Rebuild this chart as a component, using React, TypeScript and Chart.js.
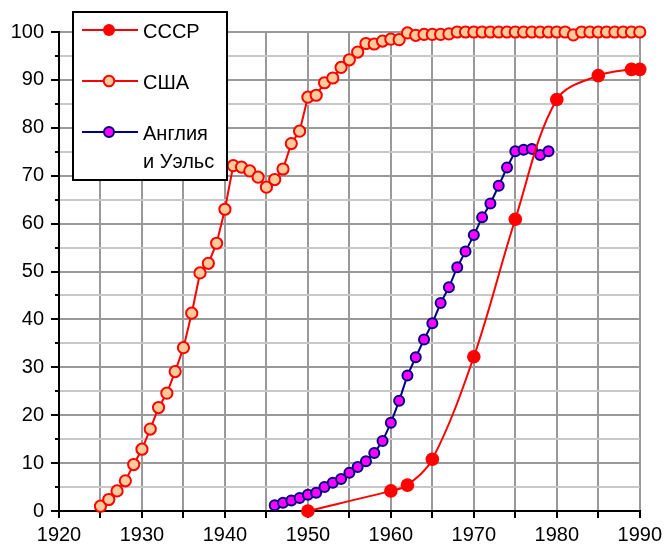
import React, { useEffect, useRef } from 'react';
import { Chart, registerables } from 'chart.js';

Chart.register(...registerables);

// ---- Data ----
const ussrYears = [1950, 1960, 1962, 1965, 1970, 1975, 1980, 1985, 1989, 1990];
const ussrValues = [0, 4.2, 5.4, 10.8, 32.2, 60.9, 85.9, 90.9, 92.2, 92.2];

const usaYears = [
  1925, 1926, 1927, 1928, 1929, 1930, 1931, 1932, 1933, 1934, 1935, 1936, 1937, 1938, 1939,
  1940, 1941, 1942, 1943, 1944, 1945, 1946, 1947, 1948, 1949, 1950, 1951, 1952, 1953, 1954,
  1955, 1956, 1957, 1958, 1959, 1960, 1961, 1962, 1963, 1964, 1965, 1966, 1967, 1968, 1969,
  1970, 1971, 1972, 1973, 1974, 1975, 1976, 1977, 1978, 1979, 1980, 1981, 1982, 1983, 1984,
  1985, 1986, 1987, 1988, 1989, 1990,
];
const usaValues = [
  1.0, 2.4, 4.2, 6.3, 9.7, 12.9, 17.1, 21.6, 24.6, 29.1, 34.1, 41.3, 49.7, 51.7, 55.9,
  63.0, 72.1, 71.8, 71.0, 69.7, 67.6, 69.2, 71.4, 76.7, 79.3, 86.4, 86.8, 89.4, 90.4, 92.6,
  94.2, 95.8, 97.6, 97.5, 98.1, 98.5, 98.4, 99.8, 99.3, 99.5, 99.5, 99.5, 99.6, 100, 100,
  100, 100, 100, 100, 100, 100, 100, 100, 100, 100, 100, 100, 99.4, 100, 100,
  100, 100, 100, 100, 100, 100,
];

const ewYears = [
  1946, 1947, 1948, 1949, 1950, 1951, 1952, 1953, 1954, 1955, 1956, 1957, 1958, 1959, 1960,
  1961, 1962, 1963, 1964, 1965, 1966, 1967, 1968, 1969, 1970, 1971, 1972, 1973, 1974, 1975,
  1976, 1977, 1978, 1979,
];
const ewValues = [
  1.2, 1.7, 2.2, 2.7, 3.4, 3.8, 5.0, 5.9, 6.7, 8.0, 9.2, 10.4, 12.1, 14.6, 18.4,
  23.0, 28.3, 32.1, 35.8, 39.2, 43.4, 46.7, 50.9, 54.2, 57.6, 61.3, 64.2, 67.9, 71.7, 75.1,
  75.4, 75.6, 74.3, 75.1,
];

const seriesLabels = ['СССР', 'США', 'Англия\nи Уэльс'];
const xMin = 1920;
const xMax = 1990;
const yMin = 0;
const yMax = 100;

const FONT = "'Liberation Sans', Arial, sans-serif";

const toPoints = (xs: number[], ys: number[]) => xs.map((x, i) => ({ x, y: ys[i] }));

const legendPlugin = {
  id: 'boxLegend',
  afterDraw(chart: any) {
    const ctx = chart.ctx as CanvasRenderingContext2D;
    ctx.save();
    ctx.fillStyle = '#ffffff';
    ctx.fillRect(73, 12, 154, 168);
    ctx.strokeStyle = '#000000';
    ctx.lineWidth = 2;
    ctx.strokeRect(73, 12, 154, 168);
    const rowY = [30, 81, 132];
    chart.data.datasets.forEach((ds: any, i: number) => {
      const cy = rowY[i];
      ctx.beginPath();
      ctx.moveTo(82, cy);
      ctx.lineTo(138, cy);
      ctx.strokeStyle = ds.borderColor;
      ctx.lineWidth = 2;
      ctx.stroke();
      ctx.beginPath();
      ctx.arc(109, cy, ds.legendRadius, 0, Math.PI * 2);
      ctx.fillStyle = ds.pointBackgroundColor;
      ctx.fill();
      if (ds.pointBorderWidth > 0) {
        ctx.lineWidth = ds.pointBorderWidth;
        ctx.strokeStyle = ds.pointBorderColor;
        ctx.stroke();
      }
      ctx.fillStyle = '#000';
      ctx.font = `20px ${FONT}`;
      ctx.textBaseline = 'alphabetic';
      ctx.textAlign = 'left';
      String(ds.label).split('\n').forEach((line: string, k: number) => {
        ctx.fillText(line, 143, cy + 8 + k * 28);
      });
    });
    ctx.restore();
  },
};

const minorTickPlugin = {
  id: 'minorTicks',
  afterDraw(chart: any) {
    const y = chart.scales.y;
    const ctx = chart.ctx as CanvasRenderingContext2D;
    ctx.save();
    ctx.strokeStyle = '#000';
    ctx.lineWidth = 2;
    y.ticks.forEach((t: any) => {
      if (t.value % 10 !== 0) {
        const py = Math.round(y.getPixelForValue(t.value));
        ctx.beginPath();
        ctx.moveTo(y.right - 4, py);
        ctx.lineTo(y.right, py);
        ctx.stroke();
      }
    });
    ctx.restore();
  },
};

export default function App() {
  const ref = useRef<HTMLCanvasElement | null>(null);

  useEffect(() => {
    if (!ref.current) return;
    const chart = new Chart(ref.current, {
      type: 'line',
      data: {
        datasets: [
          {
            label: seriesLabels[0],
            data: toPoints(ussrYears, ussrValues),
            borderColor: '#ff0000',
            borderWidth: 2,
            backgroundColor: '#ff0000',
            pointBackgroundColor: '#ff0000',
            pointBorderColor: '#ff0000',
            pointBorderWidth: 0,
            pointRadius: 6.8,
            tension: 0.35,
            clip: false,
            legendRadius: 6,
          } as any,
          {
            label: seriesLabels[1],
            data: toPoints(usaYears, usaValues),
            borderColor: '#ff0000',
            borderWidth: 2,
            backgroundColor: '#ffcc99',
            pointBackgroundColor: '#ffcc99',
            pointBorderColor: '#ff0000',
            pointBorderWidth: 2,
            pointRadius: 5.6,
            tension: 0,
            clip: false,
            legendRadius: 5.3,
          } as any,
          {
            label: seriesLabels[2],
            data: toPoints(ewYears, ewValues),
            borderColor: '#000080',
            borderWidth: 2,
            backgroundColor: '#ff00ff',
            pointBackgroundColor: '#ff00ff',
            pointBorderColor: '#000080',
            pointBorderWidth: 2,
            pointRadius: 5,
            tension: 0,
            clip: false,
            legendRadius: 5,
          } as any,
        ],
      },
      options: {
        responsive: false,
        animation: false,
        devicePixelRatio: 1,
        layout: { padding: { top: 32, right: 25, left: 0, bottom: 0 } },
        plugins: {
          legend: { display: false },
          tooltip: { enabled: false },
          title: { display: false },
        },
        scales: {
          x: {
            type: 'linear',
            min: xMin,
            max: xMax,
            afterFit: (s: any) => {
              s.height = 36;
            },
            ticks: {
              stepSize: 5,
              autoSkip: false,
              maxRotation: 0,
              padding: 5,
              color: '#000',
              font: { family: FONT, size: 20 },
              callback: (v: any) => (Number(v) % 10 === 0 ? String(v) : ''),
            },
            grid: {
              color: '#999999',
              lineWidth: 2,
              tickLength: 7,
              tickColor: '#000',
              tickWidth: 2,
            },
            border: { color: '#000', width: 2 },
          },
          y: {
            type: 'linear',
            min: yMin,
            max: yMax,
            afterFit: (s: any) => {
              s.width = 59;
            },
            ticks: {
              stepSize: 5,
              autoSkip: false,
              padding: 7,
              color: '#000',
              font: { family: FONT, size: 20 },
              callback: (v: any) => (Number(v) % 10 === 0 ? String(v) : ''),
            },
            grid: {
              color: (c: any) => (c.tick && c.tick.value % 10 === 0 ? '#999999' : '#c8c8c8'),
              lineWidth: 2,
              tickLength: 8,
              tickColor: (c: any) => (c.tick && c.tick.value % 10 === 0 ? '#000' : 'rgba(0,0,0,0)'),
              tickWidth: 2,
            },
            border: { color: '#000', width: 2 },
          },
        },
      } as any,
      plugins: [minorTickPlugin, legendPlugin],
    });
    return () => chart.destroy();
  }, []);

  return (
    <div style={{ position: 'absolute', left: 0, top: 0, width: 667, height: 547 }}>
      <canvas ref={ref} width={667} height={547} style={{ display: 'block' }} />
    </div>
  );
}
